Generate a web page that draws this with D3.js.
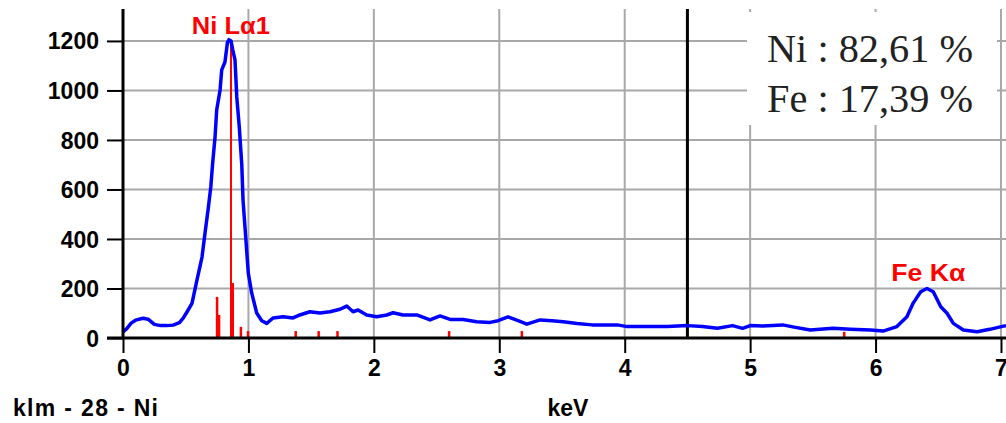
<!DOCTYPE html>
<html><head><meta charset="utf-8">
<script src="https://cdn.jsdelivr.net/npm/d3@7"></script>
<style>html,body{margin:0;padding:0;background:#fff;}svg{display:block;}</style>
</head><body>
<svg id="c" width="1006" height="423"></svg>
<script>
// Spectrum (keV, counts)
const specKeV = [0.00,0.03,0.065,0.10,0.16,0.20,0.25,0.30,0.35,0.40,0.45,0.48,0.51,0.55,0.59,0.63,0.654,0.678,0.70,0.715,0.734,0.747,0.774,0.787,0.813,0.832,0.845,0.861,0.875,0.893,0.907,0.927,0.947,0.957,0.98,0.999,1.026,1.066,1.106,1.146,1.196,1.276,1.356,1.41,1.49,1.57,1.65,1.73,1.784,1.834,1.874,1.943,2.023,2.103,2.153,2.233,2.342,2.448,2.528,2.608,2.711,2.82,2.927,2.99,3.07,3.15,3.22,3.325,3.42,3.51,3.62,3.74,3.94,4.02,4.34,4.50,4.62,4.74,4.86,4.94,5.0,5.10,5.26,5.35,5.48,5.66,5.80,5.96,6.06,6.17,6.25,6.30,6.36,6.41,6.46,6.52,6.57,6.62,6.70,6.81,6.91,7.02,7.04];
const specCounts = [25,38,60,72,80,76,55,50,50,52,62,80,105,140,235,327,424,517,610,707,812,921,1002,1083,1115,1192,1205,1200,1164,1123,974,853,700,557,396,262,182,101,70,59,81,86,81,93,106,101,106,116,129,106,113,93,86,93,102,93,93,73,89,75,75,66,63,70,85,70,56,73,70,66,59,53,53,46,46,50,46,39,50,39,50,48,53,44,32,39,35,32,28,46,86,141,187,200,187,126,100,59,32,25,35,48,50];
// Element line markers
const markerKeV = [0.75,0.766,0.861,0.875,0.94,0.997,1.377,1.56,1.71,2.6,3.18,5.75];
const markerHeights = [166,93,1200,222,45,28,28,28,28,28,28,25];
const xTicks = [0,1,2,3,4,5,6,7];
const yTicks = [0,200,400,600,800,1000,1200];
const peakLabels = ["Ni L\u03b11","Fe K\u03b1"];
const peakLabelKeV = [0.86,6.42];
const peakLabelCounts = [1230,230];
const compLines = ["Ni : 82,61 %","Fe : 17,39 %"];
const cursorKeV = 4.5;
const xTitle = "keV";
const leftTitle = "klm - 28 - Ni";

const svg = d3.select("#c");
const x = d3.scaleLinear().domain([0,7.04]).range([123,1006]);
const y = d3.scaleLinear().domain([0,1329]).range([338,9]);

// grid
const g = svg.append("g");
g.selectAll(".hg").data(yTicks.filter(d=>d>0)).join("line")
  .attr("x1",x(0)).attr("x2",1006).attr("y1",d=>y(d)).attr("y2",d=>y(d))
  .attr("stroke","#a8a8a8").attr("stroke-width",2);
g.selectAll(".vg").data(xTicks.filter(d=>d>0)).join("line")
  .attr("x1",d=>x(d)).attr("x2",d=>x(d)).attr("y1",y.range()[1]).attr("y2",y(0))
  .attr("stroke","#a8a8a8").attr("stroke-width",2);

// composition box (covers grid)
svg.append("rect").attr("x",747).attr("y",12).attr("width",250).attr("height",113).attr("fill","#fff");
svg.append("g").selectAll("text").data(compLines).join("text")
  .attr("x",767).attr("y",(d,i)=>62+i*50)
  .attr("font-family","Liberation Serif, Times New Roman, serif").attr("font-size",40)
  .attr("fill","#222").attr("textLength",206).attr("lengthAdjust","spacingAndGlyphs")
  .text(d=>d);

// red markers
svg.append("g").selectAll("line").data(markerKeV).join("line")
  .attr("x1",d=>x(d)).attr("x2",d=>x(d)).attr("y1",y(0))
  .attr("y2",(d,i)=>y(markerHeights[i]))
  .attr("stroke","#ff0000").attr("stroke-width",(d,i)=>markerHeights[i]>=1000?2:2.5);

// cursor
svg.append("line").attr("x1",x(cursorKeV)).attr("x2",x(cursorKeV))
  .attr("y1",y.range()[1]).attr("y2",y(0)).attr("stroke","#000").attr("stroke-width",3);

// spectrum
const line = d3.line().x((d,i)=>x(specKeV[i])).y(d=>y(d));
svg.append("path").datum(specCounts).attr("d",line)
  .attr("fill","none").attr("stroke","#0000ff").attr("stroke-width",3.5).attr("stroke-linejoin","round");

// peak labels
svg.append("g").selectAll("text").data(peakLabels).join("text")
  .attr("x",(d,i)=>x(peakLabelKeV[i])).attr("y",(d,i)=>y(peakLabelCounts[i]))
  .attr("text-anchor","middle").attr("fill","#ff0000")
  .attr("font-family","Liberation Sans, Arial, sans-serif").attr("font-weight","bold").attr("font-size",24)
  .attr("textLength",(d,i)=>i===0?78:74).attr("lengthAdjust","spacingAndGlyphs")
  .text(d=>d);

// axes
const font = "Liberation Sans, Arial, sans-serif";
const yAxis = svg.append("g").attr("transform",`translate(${x(0)},0)`)
  .call(d3.axisLeft(y).tickValues(yTicks).tickSize(16).tickPadding(8).tickFormat(d3.format("d")));
yAxis.select(".domain").attr("stroke","#000").attr("stroke-width",3).attr("d",`M0,${y.range()[1]}V${y(0)}`);
yAxis.selectAll(".tick line").attr("stroke","#000").attr("stroke-width",2);
yAxis.selectAll(".tick text").attr("font-family",font).attr("font-weight","bold").attr("font-size",23).attr("fill","#000").attr("dy","0.35em");

const xAxis = svg.append("g").attr("transform",`translate(0,${y(0)})`)
  .call(d3.axisBottom(x).tickValues(xTicks).tickSize(15).tickPadding(7).tickFormat(d3.format("d")));
xAxis.select(".domain").attr("stroke","#000").attr("stroke-width",3).attr("d",`M${x(0)-16},0H1006`);
xAxis.selectAll(".tick line").attr("stroke","#000").attr("stroke-width",2);
xAxis.selectAll(".tick text").attr("font-family",font).attr("font-weight","bold").attr("font-size",23).attr("fill","#000");

svg.append("text").attr("x",568).attr("y",416).attr("text-anchor","middle")
  .attr("font-family",font).attr("font-weight","bold").attr("font-size",23).text(xTitle);
svg.append("text").attr("x",13).attr("y",416)
  .attr("font-family",font).attr("font-weight","bold").attr("font-size",23)
  .attr("textLength",145).attr("lengthAdjust","spacing").text(leftTitle);
</script>
</body></html>
